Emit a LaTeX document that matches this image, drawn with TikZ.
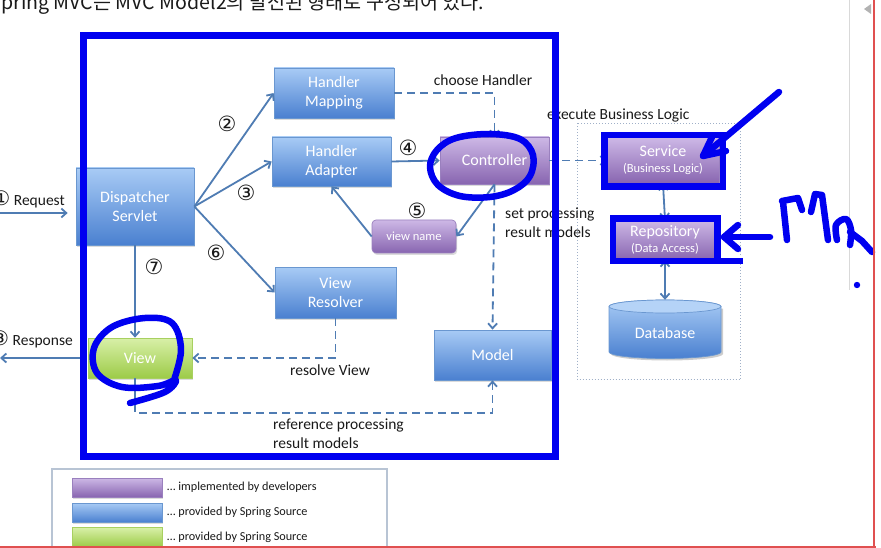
\documentclass[tikz,border=0pt]{standalone}
\usepackage{fontspec}
\setmainfont{Carlito}
\newfontfamily\krfont{Noto Sans CJK KR}
\newfontfamily\dvfont{DejaVu Sans}
\usetikzlibrary{arrows.meta,shadows}
\definecolor{bluetop}{HTML}{A8CBF5}
\definecolor{bluebot}{HTML}{4A80D0}
\definecolor{blueedge}{HTML}{6A97D0}
\definecolor{purtop}{HTML}{CDB8E6}
\definecolor{purbot}{HTML}{8865B0}
\definecolor{puredge}{HTML}{9A80BE}
\definecolor{grntop}{HTML}{D8F0A8}
\definecolor{grnbot}{HTML}{9DCB48}
\definecolor{grnedge}{HTML}{A8D060}
\definecolor{conncol}{HTML}{4F7CB3}
\definecolor{handblue}{HTML}{0000F0}
\definecolor{labelcol}{HTML}{1A1A1A}
\definecolor{dotgray}{HTML}{A0B0C8}
\definecolor{legedge}{HTML}{B8C4D4}
\definecolor{redline}{HTML}{E05050}
\tikzset{
  base/.style={line width=0.7pt, text=white, align=center, font=\fontsize{16}{19}\selectfont, inner sep=2pt,
    drop shadow={opacity=0.28, shadow xshift=1.2pt, shadow yshift=-2pt}},
  bluebox/.style={base, draw=blueedge, top color=bluetop, bottom color=bluebot},
  purbox/.style={base, draw=puredge, top color=purtop, bottom color=purbot},
  grnbox/.style={base, draw=grnedge, top color=grntop, bottom color=grnbot},
  conn/.style={draw=conncol, line width=1.8pt},
  arr/.style={conn, -{Straight Barb[length=5pt,width=9pt]}},
  biarr/.style={conn, {Straight Barb[length=5pt,width=9pt]}-{Straight Barb[length=5pt,width=9pt]}},
  dsh/.style={conn, dash pattern=on 8pt off 5pt},
  lbl/.style={text=labelcol, font=\fontsize{15.5}{19}\selectfont, inner sep=0pt},
  num/.style={text=labelcol, font=\dvfont\fontsize{21}{22}\selectfont, inner sep=0pt},
  leg/.style={text=labelcol, font=\fontsize{12.2}{14}\selectfont, inner sep=0pt, anchor=west},
  handln/.style={draw=handblue, line width=6.5pt, line cap=round, line join=round},
}
\begin{document}
\begin{tikzpicture}[x=1pt,y=-1pt]
\useasboundingbox (0,0) rectangle (881,548);
\clip (0,0) rectangle (881,548);
\fill[white] (0,0) rectangle (881,548);

% header text (cut off at the top, as in the screenshot)
\node[anchor=base west, inner sep=0pt, text=labelcol, font=\krfont\fontsize{19.6}{22}\selectfont] (title) at (-10.5,10) {Spring MVC는 MVC Model2의 발전된 형태로 구성되어 있다.};

% page edge line and icon
\draw[gray!30, line width=1pt] (849,0) -- (849,290);
\fill[gray!60] (864,9) -- (871,4) -- (871,14) -- cycle;

% business container
\draw[dotgray, line width=1pt, dotted] (577.5,123.5) rectangle (740.5,379.5);

% nodes
\node[bluebox, minimum width=118pt, minimum height=77pt] (disp) at (135,206.5) {Dispatcher\\Servlet};
\node[bluebox, minimum width=120pt, minimum height=50pt] (hm) at (334,93) {Handler\\Mapping};
\node[bluebox, minimum width=119pt, minimum height=49pt] (ha) at (331.5,161.5) {Handler\\Adapter};
\node[purbox, minimum width=109pt, minimum height=47pt] (ctrl) at (494.5,160.5) {Controller};
\node[purbox, minimum width=84pt, minimum height=33pt, rounded corners=4pt, font=\fontsize{12.5}{14}\selectfont] (vn) at (414,236.5) {view name};
\node[bluebox, minimum width=121pt, minimum height=51pt] (vr) at (335.5,292.5) {View\\Resolver};
\node[bluebox, minimum width=117pt, minimum height=50pt] (model) at (492.5,355) {Model};
\node[grnbox, minimum width=104pt, minimum height=40pt] (view) at (140,358) {View};
\node[purbox, minimum width=112pt, minimum height=46pt] (svc) at (663,160.5) {Service\\[-3pt]{\fontsize{12.5}{14}\selectfont (Business Logic)}};
\node[purbox, minimum width=104pt, minimum height=40pt] (repo) at (665,240) {Repository\\[-3pt]{\fontsize{12.5}{14}\selectfont (Data Access)}};

% database cylinder
\fill[black, opacity=0.2] (611,308.5) -- (611,354) arc[start angle=180,end angle=0,x radius=56,y radius=6.5] -- (723,308.5) -- cycle;
\shade[top color=bluetop, bottom color=bluebot, draw=blueedge, line width=0.7pt] (609,306.5) -- (609,352) arc[start angle=180,end angle=0,x radius=56,y radius=6.5] -- (721,306.5) arc[start angle=0,end angle=-180,x radius=56,y radius=6.5] -- cycle;
\fill[bluetop!85!white, draw=blueedge, line width=0.7pt] (665,306.5) ellipse[x radius=56, y radius=6.5];
\node[minimum width=112pt, minimum height=58pt, inner sep=0pt] (db) at (665,329) {};
\node[text=white, font=\fontsize{16}{19}\selectfont, inner sep=0pt] (dbl) at (665,333) {Database};

% free ends
\coordinate (reqL) at (-2,213);
\coordinate (resL) at (0,358);

% connectors
\draw[arr, shorten >=8pt] (reqL) -- (disp.west |- reqL);
\draw[arr, shorten <=7pt] (view.west) -- (resL);
\draw[arr] (disp.east) -- (hm.west);
\draw[arr] (disp.east) -- (ha.west);
\draw[arr] (disp.east) -- (vr.west);
\draw[arr] (disp.south) -- (disp.south |- view.north);
\draw[dsh, -{Straight Barb[length=5pt,width=9pt]}] (hm.east) -| (ctrl.north);
\draw[arr] (ha.east) -- (ctrl.west);
\draw[arr] (ctrl.south) -- (vn.east);
\draw[arr] (vn.west) -- (ha.south);
\draw[dsh, -{Straight Barb[length=5pt,width=9pt]}] (ctrl.south) -- (model.north);
\draw[dsh, -{Straight Barb[length=5pt,width=9pt]}] (ctrl.east) -- (svc.west);
\draw[biarr] (svc.south) -- (repo.north);
\draw[biarr] (repo.south) -- (db.north);
\draw[dsh, -{Straight Barb[length=5pt,width=9pt]}] (vr.south) |- (view.east);
\draw[dsh, -{Straight Barb[length=5pt,width=9pt]}] (disp.south |- view.south) -- ++(0,35) -| (model.south);

% labels
\node[lbl, anchor=base east] (lreq) at (65,206) {{\dvfont\fontsize{20}{20}\selectfont ①} Request};
\node[lbl, anchor=base east] (lres) at (73,345) {{\dvfont\fontsize{20}{20}\selectfont ⑧} Response};
\node[num] (n2) at (227,124) {②};
\node[num] (n3) at (246,193) {③};
\node[num] (n6) at (216,253) {⑥};
\node[num] (n7) at (154,267) {⑦};
\node[num] (n4) at (408,148) {④};
\node[num] (n5) at (417,211) {⑤};
\node[lbl] (lch) at (483,80) {choose Handler};
\node[lbl, anchor=west] (lex) at (547,116) {execute Business Logic};
\node[lbl, anchor=north west, align=left] (lset) at (505,208) {set processing\\result models};
\node[lbl] (lrv) at (330,370) {resolve View};
\node[lbl, anchor=north west, align=left] (lref) at (273,419) {reference processing\\result models};

% legend
\draw[legedge, line width=1.2pt] (52,469) rectangle (387,570);
\node[purbox, minimum width=90pt, minimum height=19pt, inner sep=0pt] (lg1) at (117,487.5) {};
\node[bluebox, minimum width=90pt, minimum height=19pt, inner sep=0pt] (lg2) at (117,512.5) {};
\node[grnbox, minimum width=90pt, minimum height=19pt, inner sep=0pt] (lg3) at (117,537) {};
\node[leg] (lt1) at (167,487) {… implemented by developers};
\node[leg] (lt2) at (167,512) {… provided by Spring Source};
\node[leg] (lt3) at (167,537) {… provided by Spring Source};

% hand-drawn annotations
\draw[handln, line width=7pt, line cap=butt, line join=miter] (83.5,35.5) rectangle (555,456);
\draw[handln] plot[smooth cycle, tension=0.6] coordinates {(437,150) (456,138) (490,134) (520,139) (533,155) (530,176) (514,190) (490,197) (460,196) (438,185) (430,167)};
\draw[handln] plot[smooth, tension=0.6] coordinates {(173,383) (181,350) (172,323) (145,318) (112,327) (94,348) (97,373) (122,387) (158,386) (176,380) (165,392) (130,403)};
\draw[handln, line cap=butt, line join=miter] (604.5,135) rectangle (723,186.5);
\draw[handln, line cap=butt, line join=miter] (743,261) -- (613,261) -- (613,218.5) -- (717.5,218.5) -- (717.5,261);
\draw[handln] (779,92) -- (703,156);
\draw[handln] (712,137) -- (703,156) -- (726,151);
\draw[handln] (770,237) -- (724,237);
\draw[handln] (738,225) -- (724,237) -- (738,249);
% handwritten "Ma"
\draw[handln] (783,202) -- (787,240);
\draw[handln] (782,201) -- (798,198) -- (802,210);
\draw[handln] (811,212) -- (815,194) -- (822,195) -- (828,240);
\draw[handln] plot[smooth, tension=0.6] coordinates {(837,240) (836,225) (846,219) (851,230) (850,245)};
\draw[handln] (850,232) -- (862,241) -- (872,252);
\fill[handblue] (857,285) circle[radius=3.2];

% screen edges
\draw[redline, line width=1.5pt] (0,547) -- (876,547);
\draw[redline, line width=1.5pt] (874,0) -- (874,548);
\end{tikzpicture}
\end{document}
